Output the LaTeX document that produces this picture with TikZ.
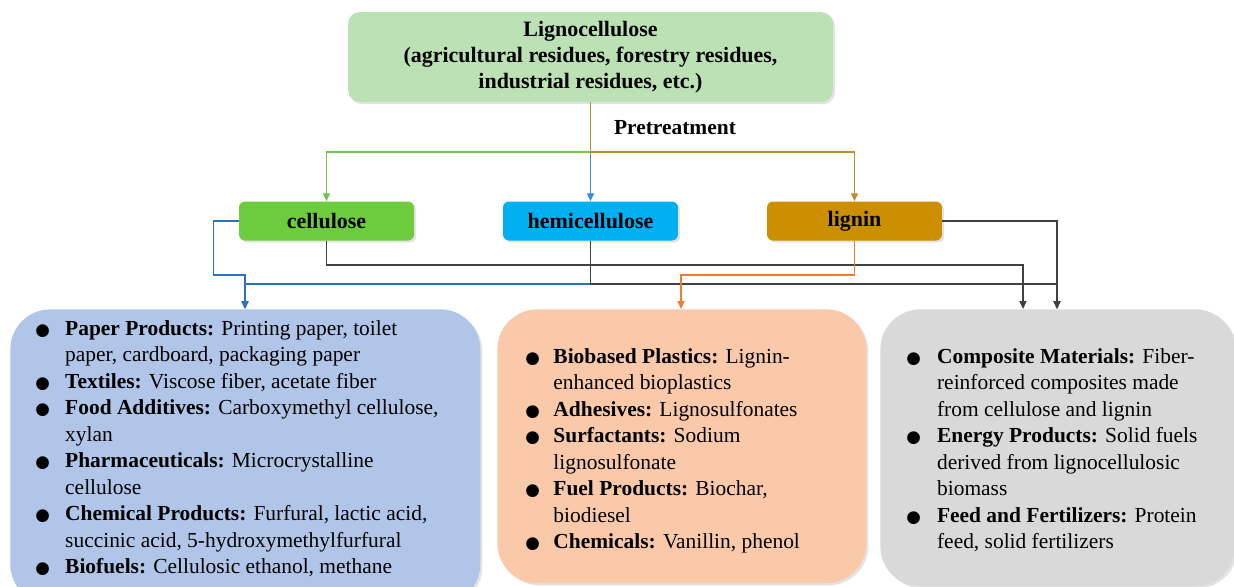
\documentclass[tikz,border=0pt]{standalone}
\usepackage{fontspec}
\setmainfont{Liberation Serif}
\newfontfamily\dotfont{DejaVu Sans}
\usetikzlibrary{arrows.meta, positioning, calc, shadows}

\definecolor{topfill}{RGB}{187,225,180}
\definecolor{cellfill}{RGB}{108,204,62}
\definecolor{hemifill}{RGB}{0,176,240}
\definecolor{lignfill}{RGB}{204,143,0}
\definecolor{cellapp}{RGB}{176,197,231}
\definecolor{lignapp}{RGB}{250,201,170}
\definecolor{mixapp}{RGB}{217,217,217}
\definecolor{greenln}{RGB}{112,196,80}
\definecolor{blueln}{RGB}{58,136,226}
\definecolor{cellln}{RGB}{46,112,190}
\definecolor{brownln}{RGB}{190,140,50}
\definecolor{grayln}{RGB}{64,64,64}
\definecolor{orangeln}{RGB}{237,125,49}

% bullet of a fixed width
\newcommand{\bul}[1]{\makebox[#1][l]{\dotfont\fontsize{9.5}{9.5}\selectfont ●}}

\begin{document}
\begin{tikzpicture}[
    x=0.02cm, y=-0.02cm,
    softshadow/.style={drop shadow={opacity=0.22, shadow xshift=1.2pt, shadow yshift=-1.2pt}},
    partbox/.style={rectangle, rounded corners=0.12cm, minimum width=3.5cm, minimum height=0.78cm, inner sep=0pt, font=\fontsize{12.5}{15}\selectfont\bfseries, softshadow},
    appbox/.style={rectangle, rounded corners=0.8cm, inner sep=0pt, anchor=north west, softshadow},
    apptext/.style={anchor=base west, inner sep=0pt, font=\fontsize{12.2}{15.1}\selectfont},
    arrow/.style={-{Triangle[length=4.5pt, width=4pt]}, line width=0.8pt},
]
\clip (0,0) rectangle (1234,586);

% source and fractions
\node[rectangle, rounded corners=0.24cm, fill=topfill, minimum width=9.7cm, minimum height=1.8cm, align=center,
      font=\fontsize{12.5}{14.8}\selectfont\bfseries, softshadow] (ligno) at (590.5,57)
  {Lignocellulose\\(agricultural residues, forestry residues,\\industrial residues, etc.)};
\node[font=\fontsize{12.2}{14}\selectfont\bfseries] (pretreat) at (675,128) {Pretreatment};

\node[partbox, fill=cellfill] (cell) at (326.5,221) {cellulose};
\node[partbox, fill=hemifill] (hemi) at (590.5,221) {hemicellulose};
\node[partbox, fill=lignfill] (lign) at (854.5,221) {lignin};

% application boxes
\node[appbox, fill=cellapp, minimum width=9.4cm, minimum height=5.9cm] (celluse) at (10,309) {};
\node[appbox, fill=lignapp, minimum width=7.38cm, minimum height=5.48cm] (lignuse) at (497,309) {};
\node[appbox, fill=mixapp, minimum width=7.1cm, minimum height=5.54cm] (mixuse) at (880,309) {};

\coordinate (fork) at (590.5,152);
\coordinate (inC) at ($(celluse.north west)+(235,0)$);
\coordinate (inM) at ($(lignuse.north west)+(184,0)$);
\coordinate (inR1) at ($(mixuse.north west)+(143,0)$);
\coordinate (inR2) at ($(mixuse.north west)+(177,0)$);

% pretreatment split
\draw[arrow, greenln] (ligno.south) -- (fork) -| (cell.north);
\draw[arrow, blueln] (ligno.south) -- (hemi.north);
\draw[arrow, brownln] (ligno.south) -- (fork) -| (lign.north);

% fractions to applications
\draw[arrow, cellln] (cell.west) -- ++(-25,0) |- ($(inC)+(0,-34)$) -- (inC);
\draw[arrow, cellln] (hemi.south) |- ($(inC)+(0,-25)$) -- (inC);
\draw[arrow, grayln] (cell.south) |- ($(inR1)+(0,-44)$) -- (inR1);
\draw[arrow, grayln] (hemi.south) |- ($(inR2)+(0,-25)$) -- (inR2);
\draw[arrow, grayln] (lign.east) -| (inR2);
\draw[arrow, orangeln] (lign.south) |- ($(inM)+(0,-34)$) -- (inM);

% texts
\node[apptext] (celltxt) at (35,335) {\begin{tabular}[t]{@{}l@{}l@{}}
\bul{17pt} & \textbf{Paper Products:} Printing paper, toilet\\
 & paper, cardboard, packaging paper\\
\bul{17pt} & \textbf{Textiles:} Viscose fiber, acetate fiber\\
\bul{17pt} & \textbf{Food Additives:} Carboxymethyl cellulose,\\
 & xylan\\
\bul{17pt} & \textbf{Pharmaceuticals:} Microcrystalline\\
 & cellulose\\
\bul{17pt} & \textbf{Chemical Products:} Furfural, lactic acid,\\
 & succinic acid, 5-hydroxymethylfurfural\\
\bul{17pt} & \textbf{Biofuels:} Cellulosic ethanol, methane
\end{tabular}};

\node[apptext] (ligntxt) at (525,363) {\begin{tabular}[t]{@{}l@{}l@{}}
\bul{16pt} & \textbf{Biobased Plastics:} Lignin-\\
 & enhanced bioplastics\\
\bul{16pt} & \textbf{Adhesives:} Lignosulfonates\\
\bul{16pt} & \textbf{Surfactants:} Sodium\\
 & lignosulfonate\\
\bul{16pt} & \textbf{Fuel Products:} Biochar,\\
 & biodiesel\\
\bul{16pt} & \textbf{Chemicals:} Vanillin, phenol
\end{tabular}};

\node[apptext] (mixtxt) at (906,363) {\begin{tabular}[t]{@{}l@{}l@{}}
\bul{17.5pt} & \textbf{Composite Materials:} Fiber-\\
 & reinforced composites made\\
 & from cellulose and lignin\\
\bul{17.5pt} & \textbf{Energy Products:} Solid fuels\\
 & derived from lignocellulosic\\
 & biomass\\
\bul{17.5pt} & \textbf{Feed and Fertilizers:} Protein\\
 & feed, solid fertilizers
\end{tabular}};
\end{tikzpicture}
\end{document}
